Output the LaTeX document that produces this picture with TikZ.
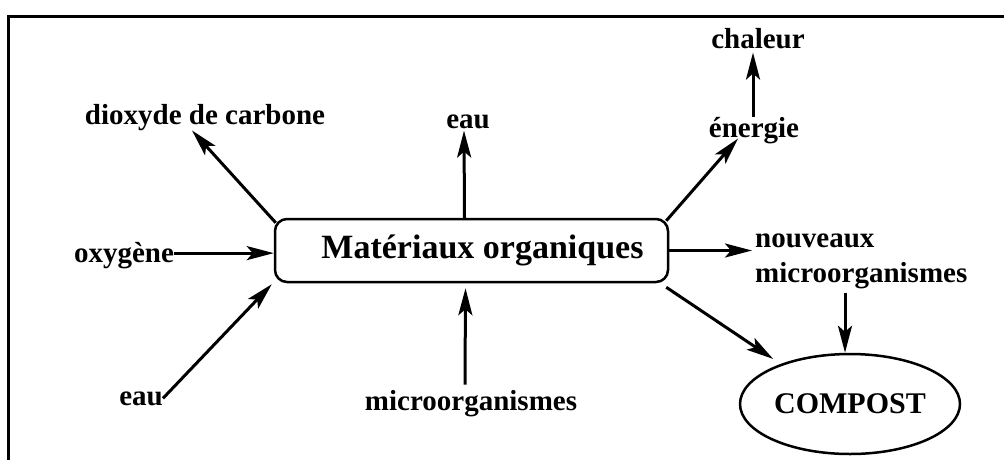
\documentclass[tikz,border=0pt]{standalone}
\usepackage{fontspec}
\setmainfont{Liberation Serif}
\usetikzlibrary{arrows.meta,shapes.geometric}

\begin{document}
\begin{tikzpicture}[x=1pt,y=-1pt,
  lbl/.style={inner sep=0pt, font=\bfseries\fontsize{29}{35}\selectfont},
  arr/.style={line width=3pt, -{Stealth[length=27pt,width=14pt,inset=6pt]}},
  mainbox/.style={draw, line width=2.5pt, rounded corners=12pt,
    minimum width=393pt, minimum height=63pt, inner sep=0pt,
    font=\bfseries\fontsize{34}{40}\selectfont},
  finalbox/.style={draw, ellipse, line width=2.5pt, minimum width=220pt,
    minimum height=100pt, inner sep=0pt,
    font=\bfseries\fontsize{30}{36}\selectfont}]
  \useasboundingbox (0,0) rectangle (1004,459);

  % open frame: left and top edges
  \draw[line width=3pt] (8,460) -- (8,16) -- (1005,16);

  % central box and the compost ellipse
  \node[mainbox] (box) at (471.5,250.5) {\hspace*{22pt}Matériaux organiques};
  \node[finalbox] (comp) at (850,404) {COMPOST};

  % labels
  \node[lbl, anchor=base] (dio)   at (205,124) {dioxyde de carbone};
  \node[lbl, anchor=base] (eauT)  at (468,128) {eau};
  \node[lbl, anchor=base] (chal)  at (758,48)  {chaleur};
  \node[lbl, anchor=base] (ener)  at (754,137) {énergie};
  \node[lbl, anchor=base] (oxy)   at (124,262) {oxygène};
  \node[lbl, anchor=base] (eauB)  at (141,405) {eau};
  \node[lbl, anchor=base] (micro) at (471,410) {microorganismes};
  \node[lbl, anchor=base west, align=left] (nouv) at (755,282)
    {nouveaux\\microorganismes};

  % outputs
  \draw[arr] ([shift={(2,5)}]box.north west) -- ([xshift=-13pt]dio.south);
  \draw[arr] ([xshift=-7pt]box.north) -- ([shift={(-4,2)}]eauT.south);
  \draw[arr] ([shift={(-3,3)}]box.north east) -- ([shift={(-16,-5)}]ener.south);
  \draw[arr] ([xshift=-1pt]ener.north) -- ([shift={(-5,4)}]chal.south);
  \draw[arr] (box.east) -- ([xshift=-3pt]box.east -| nouv.west);
  \draw[arr, shorten >=9pt] ([shift={(-3,4)}]box.south east) -- (comp.150);
  \draw[arr] ([xshift=-5pt]comp.north |- nouv.south) ++(0,4) -- ([xshift=-5pt]comp.north);

  % inputs
  \draw[arr] ([yshift=2pt]oxy.east) -- ([yshift=2pt]oxy.east -| box.west);
  \draw[arr] (eauB.east) -- ([shift={(-2,1)}]box.south west);
  \draw[arr] ([shift={(-6,-5)}]micro.north) -- ([shift={(-6,5)}]box.south);
\end{tikzpicture}
\end{document}
